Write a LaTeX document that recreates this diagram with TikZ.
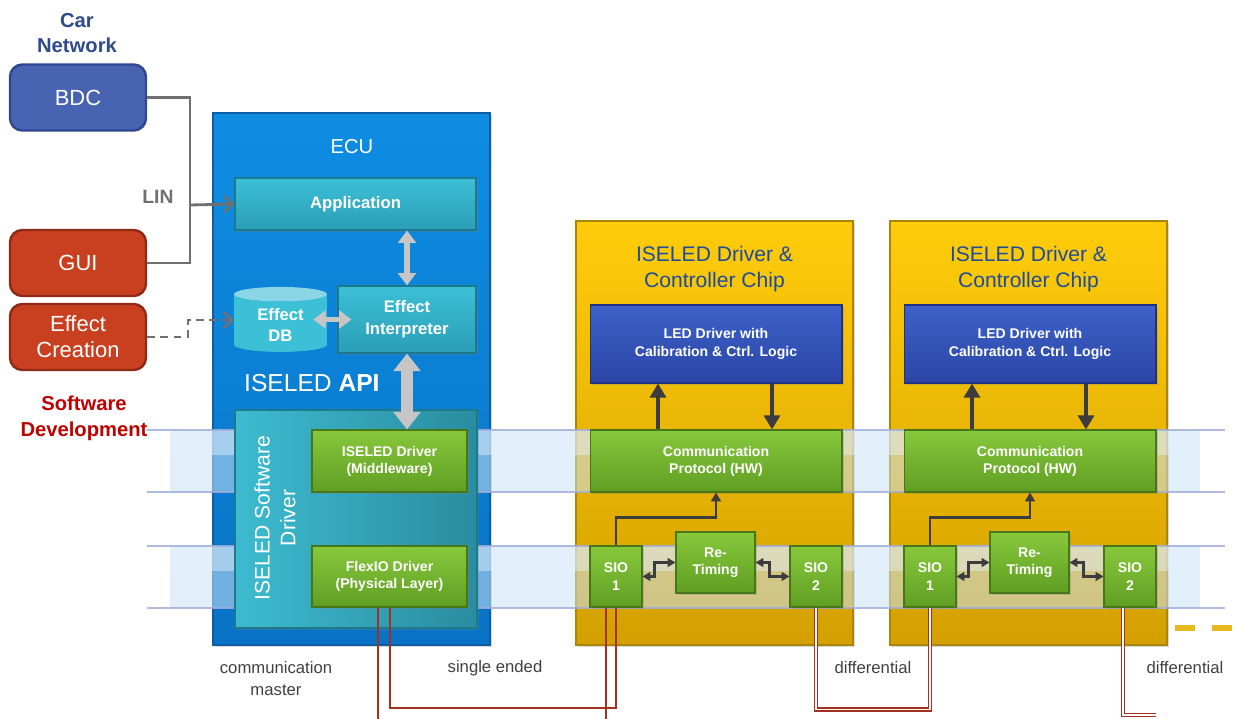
\documentclass[tikz,border=0pt]{standalone}
\usepackage{fontspec}
\setmainfont{Liberation Sans}
\usetikzlibrary{arrows.meta,shapes.geometric,shadows}

\definecolor{netblue}{HTML}{4763B1}
\definecolor{netblueedge}{HTML}{2F4690}
\definecolor{netred}{HTML}{C8401F}
\definecolor{netrededge}{HTML}{8E2A16}
\definecolor{cartext}{HTML}{2F4A8A}
\definecolor{devtext}{HTML}{C00000}
\definecolor{linegray}{HTML}{707070}
\definecolor{ecutop}{HTML}{0E8DE2}
\definecolor{ecubot}{HTML}{0873C6}
\definecolor{ecuedge}{HTML}{0A5EA6}
\definecolor{tealtop}{HTML}{3CC0D6}
\definecolor{tealbot}{HTML}{2A9EB6}
\definecolor{tealedge}{HTML}{1D7A8C}
\definecolor{teallight}{HTML}{8AD6E6}
\definecolor{swleft}{HTML}{3DBBD0}
\definecolor{swright}{HTML}{2A8CA0}
\definecolor{greentop}{HTML}{88C83C}
\definecolor{greenbot}{HTML}{5F9E22}
\definecolor{greenedge}{HTML}{48771A}
\definecolor{ledtop}{HTML}{3D62C9}
\definecolor{ledbot}{HTML}{2B45A6}
\definecolor{lededge}{HTML}{1F3182}
\definecolor{chiptop}{HTML}{FFCC0B}
\definecolor{chipmid}{HTML}{F6C104}
\definecolor{chipbot}{HTML}{D4A000}
\definecolor{chipedge}{HTML}{A9850A}
\definecolor{bandfill}{HTML}{C9E1F4}
\definecolor{bandlight}{HTML}{E6F1FB}
\definecolor{bandline}{HTML}{A2AEDA}
\definecolor{arrowlight}{HTML}{C6C6C6}
\definecolor{arrowdark}{HTML}{3C3C3C}
\definecolor{wirered}{HTML}{A3311D}
\definecolor{labelgray}{HTML}{404040}
\definecolor{chiptitle}{HTML}{1F4C9A}
\definecolor{moredash}{HTML}{E8B820}

\tikzset{
  shadowed/.style={drop shadow={opacity=0.3,shadow xshift=1.2pt,shadow yshift=-1.2pt}},
  netbox/.style={rectangle,rounded corners=7pt,line width=1.4pt,text=white,align=center,minimum width=2.72cm,minimum height=1.32cm,font=\fontsize{12.5}{14.7}\selectfont},
  ecubox/.style={rectangle,shadowed,draw=ecuedge,line width=0.8pt,top color=ecutop,bottom color=ecubot,minimum width=5.54cm,minimum height=10.64cm},
  chipbox/.style={rectangle,shadowed,draw=chipedge,line width=0.8pt,top color=chiptop,middle color=chipmid,bottom color=chipbot,minimum width=5.54cm,minimum height=8.48cm},
  swbox/.style={rectangle,shadowed,draw=tealedge,line width=0.8pt,left color=swleft,right color=swright,minimum width=4.84cm,minimum height=4.36cm},
  tealbox/.style={rectangle,shadowed,draw=tealedge,line width=0.6pt,top color=tealtop,bottom color=tealbot,text=white,align=center,font=\bfseries\fontsize{9.5}{12.5}\selectfont},
  greenbox/.style={rectangle,shadowed,draw=greenedge,line width=0.6pt,top color=greentop,bottom color=greenbot,text=white,align=center,font=\bfseries\fontsize{8}{9.8}\selectfont},
  ledbox/.style={rectangle,shadowed,draw=lededge,line width=0.6pt,top color=ledtop,bottom color=ledbot,text=white,align=center,minimum width=5.04cm,minimum height=1.56cm,font=\bfseries\fontsize{8}{10.2}\selectfont},
  dbcyl/.style={cylinder,shape border rotate=90,aspect=0.25,minimum width=1.86cm,minimum height=1.3cm,cylinder uses custom fill,cylinder body fill=tealtop,cylinder end fill=teallight,text=white,align=center,font=\bfseries\fontsize{9.5}{12}\selectfont},
  linwire/.style={draw=linegray,line width=1.6pt},
  lightarrow/.style={draw=arrowlight,line width=3.2pt,{Triangle[width=10pt,length=7pt]}-{Triangle[width=10pt,length=7pt]}},
  apiarrow/.style={draw=arrowlight,line width=6.5pt,{Triangle[width=15pt,length=10pt]}-{Triangle[width=15pt,length=10pt]}},
  chiparrow/.style={draw=arrowdark,line width=2.5pt,-{Triangle[width=9pt,length=8pt]}},
  sioarrow/.style={draw=arrowdark,line width=1.3pt,-{Triangle[width=5.5pt,length=5pt]}},
  zigarrow/.style={draw=arrowdark,line width=1.3pt,{Triangle[width=5pt,length=4.5pt]}-{Triangle[width=5pt,length=4.5pt]}},
  sewire/.style={draw=wirered,line width=0.8pt},
  diffwire/.style={draw=wirered,line width=0.6pt,double=white,double distance=1.1pt},
  labeltext/.style={text=labelgray,align=center,font=\fontsize{9.5}{12.5}\selectfont}
}
\newcommand{\tealNode}{\node[tealbox]}
\newcommand{\greenNode}{\node[greenbox]}

\begin{document}
\begin{tikzpicture}[x=0.02cm,y=-0.02cm]
    \useasboundingbox (0,0) rectangle (1238,719);

    % car network side
    \node[text=cartext,align=center,font=\bfseries\fontsize{11.5}{14.7}\selectfont] (carnet) at (77,33) {Car\\Network};
    \node[netbox,fill=netblue,draw=netblueedge] (bdc) at (78,97.5) {BDC};
    \node[netbox,fill=netred,draw=netrededge] (gui) at (78,263) {GUI};
    \node[netbox,fill=netred,draw=netrededge] (creation) at (78,337) {Effect\\Creation};
    \node[text=devtext,align=center,font=\bfseries\fontsize{11.5}{14.7}\selectfont] (swdev) at (84,418) {Software\\Development};

    \node[ecubox] (ecu) at (351.5,379) {};
    \node[text=white,font=\fontsize{11.5}{14}\selectfont] (ecutitle) at (352,147) {ECU};

    \foreach \dx/\c in {0/1,314/2}
             {
               \node[chipbox] (chip\c) at (714.5+\dx,433) {};
             };

    % the two layer bands
    \foreach \ya/\yb in {430/492,546/608}
             {
               \fill[bandfill,fill opacity=0.55] (170,\ya) rectangle (1200,\yb);
               \fill[bandlight,fill opacity=0.45] (170,\ya) rectangle (1200,\ya+25);
               \draw[bandline,line width=1.6pt,draw opacity=0.85] (147,\ya) -- (1225,\ya) (147,\yb) -- (1225,\yb);
             };

    \node[swbox] (swdrv) at (356,519) {};
    \node[rotate=90,text=white,align=center,font=\fontsize{12}{14.7}\selectfont] (swdrvtext) at (275,518) {ISELED Software\\Driver};

    \tealNode (app) [minimum width=4.82cm,minimum height=1.04cm] at (355.5,204) {Application};
    \node[dbcyl] (db) at (280.5,325) {Effect\\DB};
    \tealNode (interp) [minimum width=2.76cm,minimum height=1.34cm] at (407,319.5) {Effect\\Interpreter};
    \node[text=white,anchor=west,font=\fontsize{14}{17}\selectfont] (api) at (238,383) {ISELED \textbf{API}};

    \greenNode (mid) [minimum width=3.1cm,minimum height=1.24cm] at (389.5,461) {ISELED Driver\\(Middleware)};
    \greenNode (flexio) [minimum width=3.1cm,minimum height=1.22cm] at (389.5,576.5) {FlexIO Driver\\(Physical Layer)};

    \draw[lightarrow] (app.south -| interp.north) -- (interp.north);
    \draw[lightarrow,shorten <=-8pt,shorten >=-8pt] (interp.west -| db.east) -- (interp.west);
    \draw[apiarrow] (interp.south) -- (interp.south |- mid.north);

    % LIN bus and effect creation
    \coordinate (lin) at (190,205);
    \draw[linwire] (bdc.east) -| (lin) |- (gui.east);
    \draw[linwire,-{Straight Barb[length=4.5pt,width=9pt]}] (lin) -- (app.west);
    \node[text=linegray,font=\bfseries\fontsize{11}{13}\selectfont] (lintext) at (158,197) {LIN};
    \draw[linwire,dash pattern=on 4.5pt off 3pt,-{Straight Barb[length=4.5pt,width=9pt]}] (creation.east) -| (188,320) -- (db.west |- 0,320);

    \foreach \dx/\c in {0/1,314/2}
             {
               \node[text=chiptitle,align=center,font=\fontsize{12}{14.7}\selectfont] (title\c) at (714.5+\dx,269) {ISELED Driver \&\\Controller Chip};
               \node[ledbox] (led\c) at (716+\dx,344) {LED Driver with\\Calibration \& Ctrl. Logic};
               \greenNode (comm\c) [minimum width=5.04cm,minimum height=1.24cm] at (716+\dx,461) {Communication\\Protocol (HW)};
               \greenNode (sioa\c) [minimum width=1.04cm,minimum height=1.22cm] at (616+\dx,576.5) {SIO\\1};
               \greenNode (tim\c) [minimum width=1.58cm,minimum height=1.22cm] at (715.5+\dx,562.5) {Re-\\Timing};
               \greenNode (siob\c) [minimum width=1.04cm,minimum height=1.22cm] at (816+\dx,576.5) {SIO\\2};
               \draw[chiparrow] ([xshift=-1.16cm]comm\c.north) -- ([xshift=-1.16cm]led\c.south);
               \draw[chiparrow] ([xshift=1.12cm]led\c.south) -- ([xshift=1.12cm]comm\c.north);
               \draw[sioarrow] (sioa\c.north) -- ++(0,-28) -| (comm\c.south);
               \draw[zigarrow] (sioa\c.east) -- ++(12,0) |- (tim\c.west);
               \draw[zigarrow] (tim\c.east) -- ++(14,0) |- (siob\c.west);
             };

    % wires between the chips
    \coordinate (endA) at (378,719);
    \coordinate (endB) at (606,719);
    \coordinate (turn) at (390,708);
    \coordinate (dturn) at (816,709.5);
    \coordinate (dend) at (1156,715);
    \draw[sewire] (flexio.south -| endA) -- (endA);
    \draw[sewire] (sioa1.south -| endB) -- (endB);
    \draw[sewire] (flexio.south -| turn) -- (turn) -| (sioa1.south);
    \draw[diffwire] (siob1.south) -- (dturn) -| (sioa2.south);
    \draw[diffwire] (siob2.south -| 1123,0) |- (dend);

    \draw[moredash,line width=3pt] (1175,628) -- (1195,628) (1212,628) -- (1232,628);

    \node[labeltext] (commaster) at (276,679) {communication\\master};
    \node[labeltext] (singleend) at (495,668) {single ended};
    \node[labeltext] (diffa) at (873,668) {differential};
    \node[labeltext] (diffb) at (1185,668) {differential};

\end{tikzpicture}
\end{document}
